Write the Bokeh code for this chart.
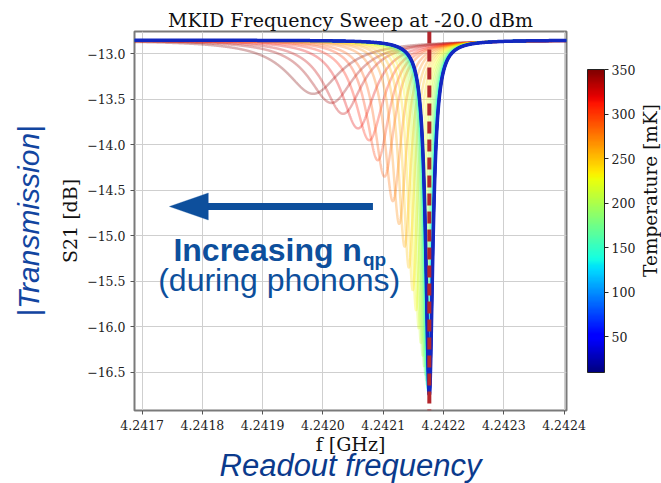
import numpy as np
from bokeh.plotting import figure
from bokeh.models import (Range1d, FixedTicker, LinearColorMapper, ColorBar, Span,
                          Label, Arrow, PolyAnnotation, ColumnDataSource, Title)
from bokeh.embed import file_html
from bokeh.resources import INLINE

# ---------------- data ----------------
temperatures_mK = [350, 340, 330, 320, 310, 300, 290, 280, 270, 260, 250, 240,
                   230, 220, 210, 200, 190, 180, 170, 160, 150, 140, 130, 120,
                   110, 100, 90, 80, 70, 60, 50, 40, 30, 20, 10]
resonance_GHz = [4.2419838, 4.2420140, 4.2420334, 4.2420582, 4.2420769, 4.2420909,
                 4.2421021, 4.2421160, 4.2421265, 4.2421355, 4.2421425, 4.2421490,
                 4.2421545, 4.2421590, 4.2421625, 4.2421655, 4.2421680, 4.2421700,
                 4.2421715, 4.2421727, 4.2421737, 4.2421745, 4.2421750, 4.2421755,
                 4.2421758, 4.2421760, 4.2421762, 4.2421763, 4.2421764, 4.2421765,
                 4.2421765, 4.2421765, 4.2421765, 4.2421765, 4.2421765]
dip_min_dB = [-13.44, -13.54, -13.66, -13.82, -13.95, -14.17, -14.35, -14.62,
              -14.87, -15.12, -15.35, -15.60, -15.82, -16.02, -16.18, -16.32,
              -16.44, -16.53, -16.59, -16.64, -16.68, -16.71, -16.72, -16.73,
              -16.74, -16.74, -16.75, -16.75, -16.75, -16.75, -16.75, -16.75,
              -16.75, -16.75, -16.75]
linewidth_kHz = [112, 96, 82, 70, 61, 51, 45, 38, 33, 29.5, 27, 24.5, 22.8, 21.5,
                 20.5, 19.8, 19.3, 18.9, 18.6, 18.4, 18.2, 18.1, 18.0, 18.0, 18.0,
                 18.0, 18.0, 18.0, 18.0, 18.0, 18.0, 18.0, 18.0, 18.0, 18.0]
baseline_dB = -12.85
marker_f_GHz = 4.2421765

x_ticks = [4.2417, 4.2418, 4.2419, 4.2420, 4.2421, 4.2422, 4.2423, 4.2424]
x_tick_labels = ["4.2417", "4.2418", "4.2419", "4.2420", "4.2421", "4.2422", "4.2423", "4.2424"]
y_ticks = [-13.0, -13.5, -14.0, -14.5, -15.0, -15.5, -16.0, -16.5]
y_tick_labels = ["\u221213.0", "\u221213.5", "\u221214.0", "\u221214.5", "\u221215.0",
                 "\u221215.5", "\u221216.0", "\u221216.5"]
cbar_ticks = [50, 100, 150, 200, 250, 300, 350]
t_low, t_high = 10, 350

# ---------------- geometry ----------------
W, H = 661, 483
FL, FR, FT, FB = 133, 566, 31, 410          # frame edges in pixels
X0, X1 = 4.2416873, 4.2424041
Y0, Y1 = -16.921, -12.755


def dx(px):
    return X0 + (px - FL) / (FR - FL) * (X1 - X0)


def dy(py):
    return Y1 - (py - FT) / (FB - FT) * (Y1 - Y0)


def jet_hex(t):
    t = float(np.clip(t, 0, 1))
    r = np.interp(t, [0, 0.35, 0.66, 0.89, 1.0], [0, 0, 1, 1, 0.5])
    g = np.interp(t, [0, 0.125, 0.375, 0.64, 0.91, 1.0], [0, 0, 1, 1, 0, 0])
    b = np.interp(t, [0, 0.11, 0.34, 0.65, 1.0], [0.5, 1, 1, 0, 0])
    return "#%02x%02x%02x" % (int(round(r * 255)), int(round(g * 255)), int(round(b * 255)))


jet_palette = [jet_hex(i / 255) for i in range(256)]

# ---------------- curves ----------------
freq = np.linspace(X0, X1, 2400)
base_amp = 10 ** (baseline_dB / 20)
xs, ys, cols = [], [], []
for T, f0, dmin, w in zip(temperatures_mK, resonance_GHz, dip_min_dB, linewidth_kHz):
    d = 1 - 10 ** ((dmin - baseline_dB) / 20)
    u = 2 * (freq - f0) * 1e6 / w
    s = base_amp * np.abs(1 - d / (1 + 1j * u))
    xs.append(freq)
    ys.append(20 * np.log10(s))
    cols.append(jet_hex((T - t_low) / (t_high - t_low)))

p = figure(width=W, height=H, x_range=Range1d(X0, X1), y_range=Range1d(Y0, Y1),
           output_backend="svg", toolbar_location=None,
           min_border_left=FL, min_border_right=W - FR, min_border_top=FT,
           min_border_bottom=H - FB)
p.background_fill_color = "white"
p.border_fill_color = "white"
p.outline_line_color = "#7a7a7a"
p.outline_line_width = 2

src = ColumnDataSource(dict(xs=xs, ys=ys, color=cols))
p.multi_line("xs", "ys", source=src, line_color="color", line_alpha=0.3, line_width=2.5)
p.line(xs[-1], ys[-1], line_color="#1428c0", line_width=3.5)

p.add_layout(Span(location=marker_f_GHz, dimension="height", line_color="#b3262c",
                  line_width=4, line_dash="12 6"))

# title
p.title.text = "MKID Frequency Sweep at -20.0 dBm"
p.title.text_font = "DejaVu Serif"
p.title.text_font_size = "19px"
p.title.text_font_style = "normal"
p.title.align = "center"
p.title.standoff = 2
p.title.text_color = "#111111"

# axes
p.xaxis.ticker = FixedTicker(ticks=x_ticks)
p.yaxis.ticker = FixedTicker(ticks=y_ticks)
p.xaxis.major_label_overrides = dict(zip(x_ticks, x_tick_labels))
p.yaxis.major_label_overrides = dict(zip(y_ticks, y_tick_labels))
p.xaxis.axis_label = "f [GHz]"
p.yaxis.axis_label = "S21 [dB]"
for ax in (p.xaxis[0], p.yaxis[0]):
    ax.axis_line_color = None
    ax.major_tick_out = 4
    ax.major_tick_in = 0
    ax.minor_tick_line_color = None
    ax.major_tick_line_color = "#555555"
    ax.major_label_text_font = "DejaVu Serif"
    ax.major_label_text_font_size = "12.5px"
    ax.major_label_text_color = "#222222"
    ax.axis_label_text_font = "DejaVu Serif"
    ax.axis_label_text_font_size = "19px"
    ax.axis_label_text_font_style = "normal"
    ax.axis_label_text_color = "#111111"
p.xaxis.axis_label_standoff = 0
p.yaxis.axis_label_standoff = 3
p.grid.grid_line_color = "#cfcfcf"
p.grid.grid_line_width = 1

# colour bar
mapper = LinearColorMapper(palette=jet_palette, low=t_low, high=t_high)
cb = ColorBar(color_mapper=mapper, ticker=FixedTicker(ticks=cbar_ticks),
              width=17, height=303, location=(21, 38), margin=0, padding=0,
              major_label_text_font="DejaVu Serif", major_label_text_font_size="12.5px",
              major_label_text_color="#222222", major_tick_out=4, major_tick_in=0,
              major_tick_line_color="#222222", bar_line_color="#222222",
              label_standoff=3, background_fill_color=None)
p.add_layout(cb, "right")

# colour-bar label, placed in the right side panel (position given in data units)
p.add_layout(Label(x=dx(650), y=dy(190), text="Temperature [mK]", angle=np.pi / 2,
                   text_align="center", text_baseline="middle", text_font="DejaVu Serif",
                   text_font_size="18.5px", text_color="#111111"), "right")

# slide annotations outside the frame
p.add_layout(Title(text="|Transmission|", align="center", vertical_align="middle",
                   text_font="Liberation Sans", text_font_style="italic",
                   text_font_size="30px", text_color="#1245a0", standoff=21), "left")
p.add_layout(Title(text="Readout frequency", align="center", vertical_align="top",
                   text_font="Liberation Sans", text_font_style="italic",
                   text_font_size="31px", text_color="#0b3a8c", standoff=-20), "below")

# annotations inside the frame
p.add_layout(Label(x=dx(172), y=dy(249), text="Increasing n", text_align="left",
                   text_baseline="alphabetic", text_font="Liberation Sans",
                   text_font_style="bold", text_font_size="32px", text_color="#0d4f9c"))
p.add_layout(Label(x=dx(362), y=dy(259), text="qp", text_align="left",
                   text_baseline="alphabetic", text_font="Liberation Sans",
                   text_font_style="bold", text_font_size="19px", text_color="#0d4f9c"))
p.add_layout(Label(x=dx(278), y=dy(279), text="(during phonons)", text_align="center",
                   text_baseline="alphabetic", text_font="Liberation Sans",
                   text_font_size="32px", text_color="#0d4f9c"))

p.add_layout(Arrow(end=None, x_start=dx(372), y_start=dy(206), x_end=dx(200), y_end=dy(206),
                   line_color="#0d4f9c", line_width=7))
p.add_layout(PolyAnnotation(xs=[dx(168), dx(207), dx(207)], ys=[dy(206), dy(192.5), dy(219.5)],
                            fill_color="#0d4f9c", fill_alpha=1, line_color="#0d4f9c"))

open("out.html", "w").write(file_html(p, INLINE))
